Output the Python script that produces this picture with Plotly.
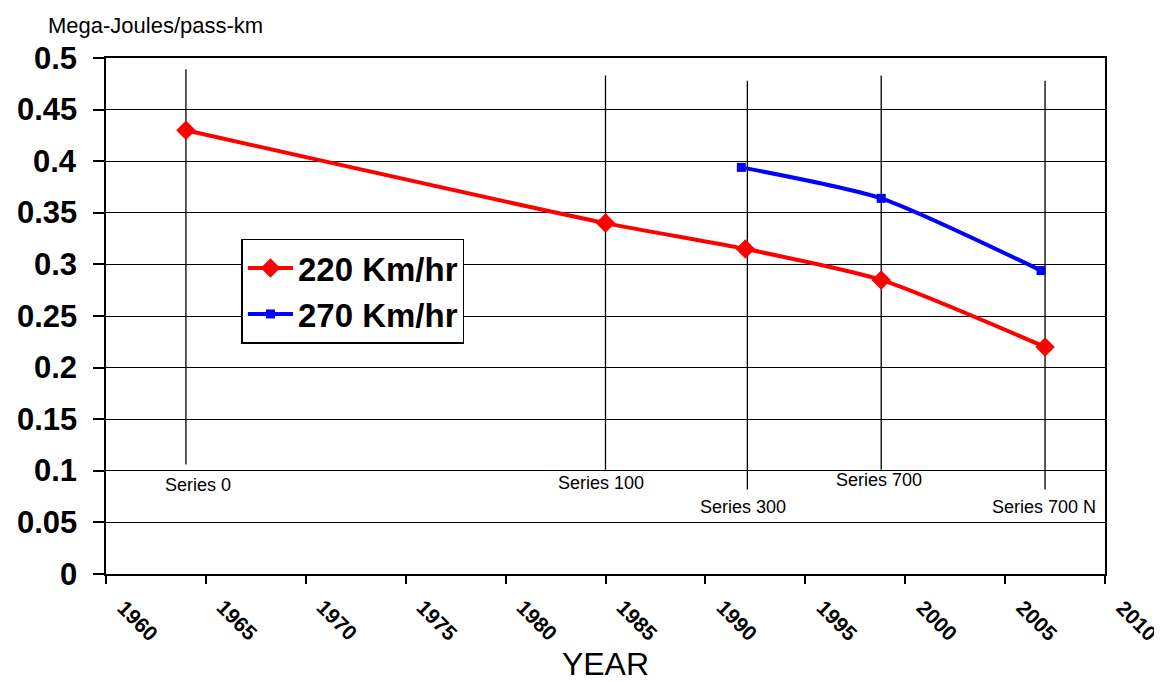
import plotly.graph_objects as go

# Data
years_220 = [1964, 1985, 1992, 1998.8, 2007]
mj_220 = [0.43, 0.34, 0.315, 0.285, 0.22]
years_270 = [1991.8, 1998.8, 2006.8]
mj_270 = [0.394, 0.364, 0.294]

series_names = ["Series 0", "Series 100", "Series 300", "Series 700", "Series 700 N"]
series_years = [1964, 1985, 1992.1, 1998.8, 2007]
series_top = [0.489, 0.483, 0.478, 0.483, 0.478]
series_bottom = [0.106, 0.101, 0.082, 0.101, 0.082]
series_label_x = [1964.6, 1984.75, 1991.9, 1998.7, 2006.95]
series_label_y = [0.086, 0.088, 0.065, 0.091, 0.065]

x_ticks = list(range(1960, 2011, 5))
x_tick_labels = [str(v) for v in x_ticks]
y_ticks = [round(i * 0.05, 2) for i in range(11)]
y_tick_labels = ["0", "0.05", "0.1", "0.15", "0.2", "0.25", "0.3", "0.35", "0.4", "0.45", "0.5"]

FONT = "Liberation Sans, Arial, sans-serif"

fig = go.Figure()

# vertical series lines
for sx, st, sb in zip(series_years, series_top, series_bottom):
    fig.add_trace(go.Scatter(x=[sx, sx], y=[sb, st], mode="lines",
                             line=dict(color="black", width=1.3),
                             showlegend=False, hoverinfo="skip"))

fig.add_trace(go.Scatter(x=years_220, y=mj_220, mode="lines+markers", name="220 Km/hr",
                         line=dict(color="#FF0000", width=4, shape="spline", smoothing=0.6),
                         marker=dict(symbol="diamond", size=15, color="#FF0000")))
fig.add_trace(go.Scatter(x=years_270, y=mj_270, mode="lines+markers", name="270 Km/hr",
                         line=dict(color="#0000FF", width=4, shape="spline", smoothing=0.6),
                         marker=dict(symbol="square", size=9, color="#0000FF")))

for name, lx, ly in zip(series_names, series_label_x, series_label_y):
    fig.add_annotation(x=lx, y=ly, xref="x", yref="y", text=name, showarrow=False,
                       font=dict(family=FONT, size=18, color="black"))

# y tick labels (placed at the axis tick values)
for v, t in zip(y_ticks, y_tick_labels):
    fig.add_annotation(x=0, y=v, xref="paper", yref="y", text=t, showarrow=False,
                       xanchor="right", yanchor="middle", xshift=-27,
                       font=dict(family=FONT, size=31, color="black", weight="bold"))

# x tick labels (rotated, placed at the axis tick values)
for v, t in zip(x_ticks, x_tick_labels):
    fig.add_annotation(x=v, y=0, xref="x", yref="paper", text=t, showarrow=False,
                       xanchor="center", yanchor="middle", xshift=32, yshift=-46,
                       textangle=45,
                       font=dict(family=FONT, size=21, color="black", weight="bold"))

fig.add_annotation(x=-0.06, y=1.063, xref="paper", yref="paper", text="Mega-Joules/pass-km",
                   showarrow=False, xanchor="left", yanchor="middle",
                   font=dict(family=FONT, size=22, color="black"))

fig.update_layout(
    width=1154, height=674,
    margin=dict(l=98, r=57, t=50, b=108, autoexpand=False),
    paper_bgcolor="white", plot_bgcolor="white",
    font=dict(family=FONT, color="black"),
    legend=dict(x=0.1356, y=0.65, xanchor="left", yanchor="top",
                bgcolor="white", bordercolor="black", borderwidth=1.5,
                itemwidth=45,
                font=dict(family=FONT, size=33, color="black", weight="bold")),
    xaxis=dict(range=[1960, 2010], tickvals=x_ticks, showticklabels=False,
               ticks="outside", ticklen=8, tickwidth=1.5, tickcolor="black",
               showline=True, linecolor="black", linewidth=1.5, mirror=True,
               showgrid=False, zeroline=False, automargin=False,
               title=dict(text="YEAR", font=dict(family=FONT, size=32, color="black"), standoff=72)),
    yaxis=dict(range=[0, 0.5], tickvals=y_ticks, showticklabels=False,
               ticks="outside", ticklen=11, tickwidth=1.5, tickcolor="black",
               showline=True, linecolor="black", linewidth=1.5, mirror=True,
               showgrid=True, gridcolor="black", gridwidth=1.3, zeroline=False,
               automargin=False),
)

fig.write_html("out.html")
